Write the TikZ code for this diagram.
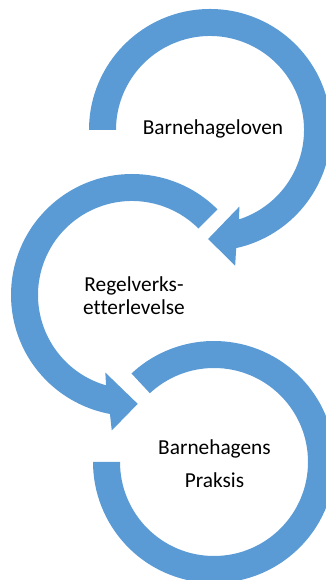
\documentclass[tikz,border=0pt]{standalone}
\usepackage{fontspec}
\setmainfont[Ligatures=NoCommon]{Carlito}
\definecolor{ringblue}{HTML}{5B9BD5}
\begin{document}
\begin{tikzpicture}[x=0.75pt,y=0.75pt,
  ring/.style={fill=ringblue},
  lbl/.style={font=\fontsize{16}{17.5}\selectfont, align=center, text=black, inner sep=0pt}]
\useasboundingbox (0,0) rectangle (325,580);
% circle 1 (clockwise arrow)
\begin{scope}[shift={(210,450)}]
\fill[ring] (180:121) arc[start angle=180, end angle=-77.5, radius=121]
  -- (-79.5:138) -- (-91:109) -- (-69:82) -- (-72:94)
  arc[start angle=-72, end angle=180, radius=94] -- cycle;
\end{scope}
% circle 2 (counter-clockwise arrow)
\begin{scope}[shift={(132,285)}]
\fill[ring] (45:121) arc[start angle=45, end angle=259.5, radius=121]
  -- (261.5:137) -- (273:109) -- (251:82) -- (254:94)
  arc[start angle=254, end angle=45, radius=94] -- cycle;
\end{scope}
% circle 3 (open ring)
\begin{scope}[shift={(214,118)}]
\fill[ring] (133:121) arc[start angle=133, end angle=-180, radius=121]
  -- (180:94) arc[start angle=-180, end angle=133, radius=94] -- cycle;
\end{scope}
\node[lbl, anchor=base] (t1) at (213,445) {Barnehageloven};
\node[lbl] (t2) at (134,284) {Regelverks-\\etterlevelse};
\node[lbl, font=\fontsize{16}{24.75}\selectfont] (t3) at (214.5,116) {Barnehagens\\Praksis};
\end{tikzpicture}
\end{document}
